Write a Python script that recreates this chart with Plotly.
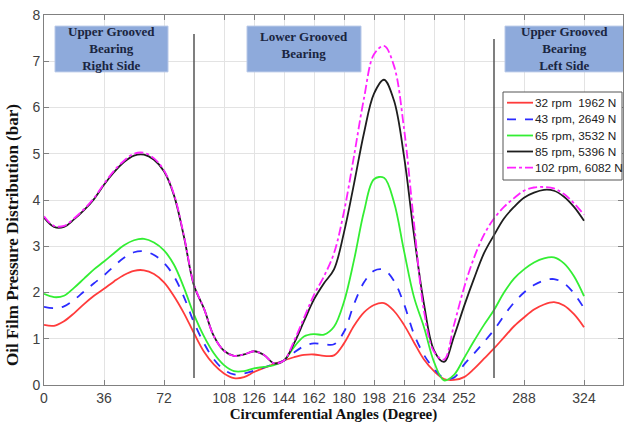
import plotly.graph_objects as go

angles = list(range(0, 325, 6))

p32 = [1.30, 1.28, 1.38, 1.55, 1.75, 1.93, 2.08, 2.24, 2.38, 2.47, 2.48, 2.40, 2.22, 1.92,
       1.55, 1.12, 0.72, 0.44, 0.25, 0.15, 0.17, 0.28, 0.37, 0.45, 0.53, 0.60, 0.65, 0.66,
       0.63, 0.64, 0.90, 1.28, 1.57, 1.73, 1.77, 1.60, 1.30, 0.92, 0.55, 0.30, 0.13, 0.11,
       0.17, 0.35, 0.57, 0.79, 1.03, 1.27, 1.46, 1.63, 1.74, 1.79, 1.72, 1.53, 1.25]

p43 = [1.69, 1.66, 1.70, 1.84, 2.02, 2.20, 2.37, 2.57, 2.75, 2.87, 2.89, 2.81, 2.64, 2.35,
       1.90, 1.35, 0.90, 0.55, 0.33, 0.23, 0.25, 0.31, 0.38, 0.45, 0.53, 0.70, 0.84, 0.90,
       0.88, 0.88, 1.15, 1.75, 2.22, 2.47, 2.49, 2.25, 1.75, 1.10, 0.65, 0.35, 0.15, 0.16,
       0.44, 0.68, 0.93, 1.19, 1.50, 1.78, 2.00, 2.16, 2.26, 2.29, 2.20, 1.98, 1.66]

p65 = [1.97, 1.90, 1.93, 2.10, 2.30, 2.50, 2.67, 2.85, 3.02, 3.13, 3.16, 3.08, 2.91, 2.60,
       2.10, 1.52, 1.05, 0.68, 0.43, 0.30, 0.30, 0.36, 0.39, 0.43, 0.53, 0.82, 1.05, 1.10,
       1.09, 1.26, 1.80, 2.70, 3.75, 4.45, 4.48, 3.95, 2.90, 1.90, 1.25, 0.50, 0.10, 0.22,
       0.58, 0.95, 1.30, 1.62, 2.00, 2.30, 2.50, 2.65, 2.74, 2.76, 2.63, 2.35, 1.92]

p85 = [3.62, 3.42, 3.42, 3.58, 3.78, 4.02, 4.33, 4.60, 4.82, 4.96, 4.98, 4.87, 4.62, 4.10,
       3.20, 2.15, 1.65, 1.05, 0.74, 0.63, 0.66, 0.73, 0.65, 0.47, 0.53, 0.90, 1.38, 1.85,
       2.20, 2.50, 3.30, 4.35, 5.45, 6.30, 6.60, 6.15, 4.95, 3.25, 1.75, 0.75, 0.50, 1.05,
       1.70, 2.30, 2.85, 3.24, 3.60, 3.85, 4.05, 4.16, 4.22, 4.20, 4.07, 3.85, 3.55]

p102 = [3.65, 3.44, 3.44, 3.60, 3.80, 4.04, 4.35, 4.63, 4.85, 5.00, 5.02, 4.90, 4.64, 4.12,
        3.22, 2.17, 1.65, 1.05, 0.74, 0.63, 0.66, 0.73, 0.65, 0.47, 0.53, 0.95, 1.45, 1.95,
        2.35, 2.85, 3.75, 4.95, 6.20, 7.15, 7.33, 6.90, 5.55, 3.50, 1.60, 0.72, 0.55, 1.30,
        2.10, 2.75, 3.25, 3.60, 3.85, 4.04, 4.20, 4.27, 4.28, 4.25, 4.13, 3.93, 3.68]

series_names = ["32 rpm  1962 N", "43 rpm, 2649 N", "65 rpm, 3532 N", "85 rpm, 5396 N", "102 rpm, 6082 N"]
series_vals = [p32, p43, p65, p85, p102]
series_colors = ["#ff3b3b", "#2b2bff", "#33ee33", "#1e1e1e", "#ff22ff"]
series_dash = ["solid", "dash", "solid", "solid", "dashdot"]

x_ticks = [0, 36, 72, 108, 126, 144, 162, 180, 198, 216, 234, 252, 288, 324]
y_ticks = [0, 1, 2, 3, 4, 5, 6, 7, 8]
dividers = [(90, 7.59), (270, 7.48)]

# plot area in pixels (for layout helpers)
L, R, T, B = 44, 623, 15, 385
def px(x):
    return (x - L) / (R - L)
def py(y):
    return (B - y) / (B - T)

fig = go.Figure()
for name, vals, col, dsh in zip(series_names, series_vals, series_colors, series_dash):
    fig.add_trace(go.Scatter(x=angles, y=vals, mode="lines", name=name, showlegend=False,
                             line=dict(color=col, width=1.8, dash=dsh, shape="spline", smoothing=1.0)))

for d, top in dividers:
    fig.add_shape(type="line", x0=d, x1=d, y0=0.15, y1=top, xref="x", yref="y",
                  line=dict(color="#555555", width=1.5))

box_fill = "#8eaadb"
boxes = [
    (6.6, 74.4, 7.28, "<b>Upper Grooved<br>Bearing<br>Right Side</b>"),
    (121.8, 190.2, 7.36, "<b>Lower Grooved<br>Bearing</b>"),
    (276.6, 350, 7.28, "<b>Upper Grooved<br>Bearing<br>Left Side</b>"),
]
for x0, x1, ty, txt in boxes:
    fig.add_shape(type="rect", x0=x0, x1=x1, y0=6.77, y1=7.76, xref="x", yref="y",
                  fillcolor=box_fill, line=dict(color="#b8c8e8", width=1), layer="above")
    fig.add_annotation(x=(x0 + min(x1, 348)) / 2, y=ty,
                       xref="x", yref="y", text=txt, showarrow=False,
                       font=dict(family="Liberation Serif", size=13, color="#1a2540"),
                       align="center")

# legend (drawn box)
fig.add_shape(type="rect", xref="paper", yref="paper", x0=px(503), x1=px(622), y0=py(180), y1=py(92),
              fillcolor="white", line=dict(color="#555555", width=1), layer="above")
row_y = [102.7, 119.3, 135.5, 151.5, 167.7]
for name, col, dsh, ry in zip(series_names, series_colors, series_dash, row_y):
    fig.add_shape(type="line", xref="paper", yref="paper", x0=px(507), x1=px(533), y0=py(ry), y1=py(ry),
                  line=dict(color=col, width=1.8, dash=dsh), layer="above")
    fig.add_annotation(x=px(534), y=py(ry), xref="paper", yref="paper", text=name,
                       showarrow=False, xanchor="left", yanchor="middle", borderpad=0,
                       font=dict(family="Liberation Sans", size=11.8, color="#222222"))

fig.add_annotation(x=px(13), y=py(235), xref="paper", yref="paper",
                   text="<b>Oil Film Pressure Distribution (bar)</b>", textangle=-90,
                   showarrow=False, xanchor="center", yanchor="middle",
                   font=dict(family="Liberation Serif", size=17, color="#111111"))

fig.update_layout(
    width=624, height=430,
    margin=dict(l=L, r=624 - R, t=T, b=430 - B),
    plot_bgcolor="white", paper_bgcolor="white",
    font=dict(family="Liberation Sans", size=14, color="#404040"),
    showlegend=False,
)
fig.update_xaxes(range=[0, 347.4], tickmode="array", tickvals=x_ticks,
                 ticks="inside", ticklen=5, tickcolor="#808080",
                 showgrid=True, gridcolor="#e3e3e3", gridwidth=1,
                 showline=True, linecolor="#808080", linewidth=1, mirror="ticks",
                 zeroline=False, automargin=False,
                 tickfont=dict(family="Liberation Sans", size=14, color="#404040"),
                 title=dict(text="<b>Circumferential Angles (Degree)</b>", standoff=3,
                            font=dict(family="Liberation Serif", size=15, color="#111111")))
fig.update_yaxes(range=[0, 8], tickmode="array", tickvals=y_ticks,
                 ticks="inside", ticklen=5, tickcolor="#808080",
                 showgrid=True, gridcolor="#e3e3e3", gridwidth=1,
                 showline=True, linecolor="#808080", linewidth=1, mirror="ticks",
                 zeroline=False, automargin=False,
                 tickfont=dict(family="Liberation Sans", size=14, color="#404040"))

fig.write_html("out.html")
